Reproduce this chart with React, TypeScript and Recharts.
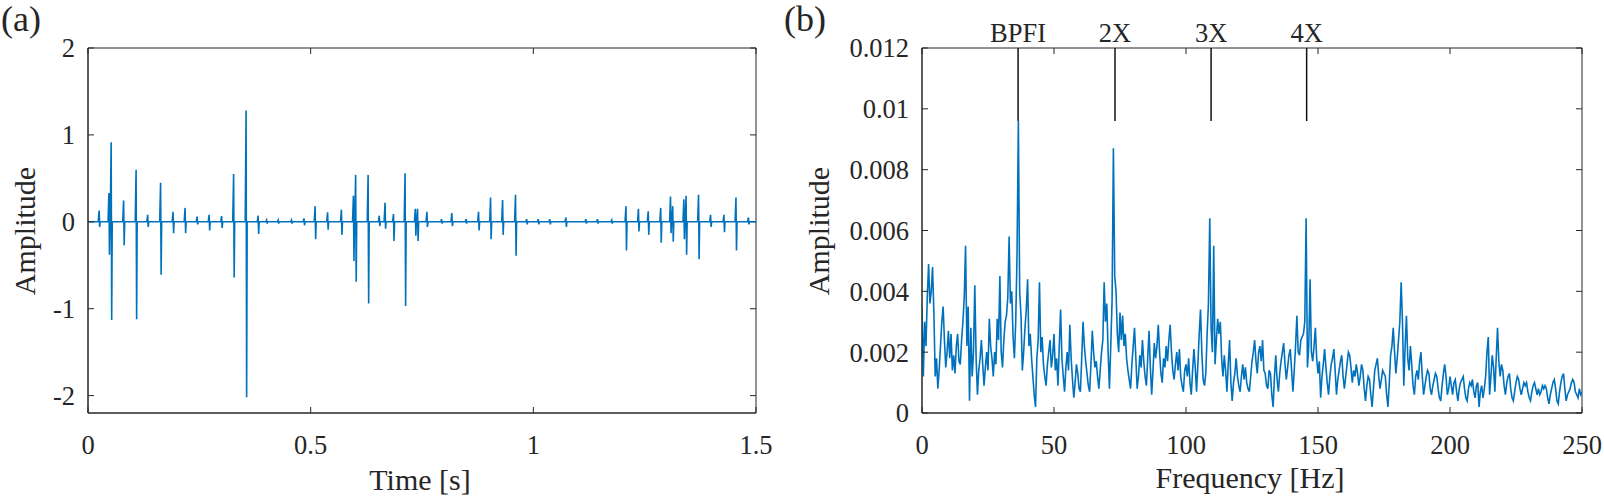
import React from 'react';
import { LineChart, Line, XAxis, YAxis, ReferenceLine, ReferenceArea } from 'recharts';

const SERIF = '"Liberation Serif", "Times New Roman", serif';
const INK = '#262626';
const BLUE = '#0072BD';
const TICK_LEN = 6;

// (a) vibration signal: one entry per impact burst
const impactTimes = [
  0.025, 0.047, 0.052, 0.08, 0.108, 0.134, 0.163, 0.191, 0.218, 0.245, 0.272, 0.3, 0.327, 0.355,
  0.382, 0.401, 0.427, 0.457, 0.485, 0.51, 0.538, 0.569, 0.596, 0.601, 0.629, 0.654, 0.667, 0.686,
  0.712, 0.735, 0.74, 0.761, 0.794, 0.817, 0.849, 0.877, 0.904, 0.931, 0.96, 0.985, 1.011, 1.037,
  1.073, 1.118, 1.144, 1.176, 1.208, 1.236, 1.258, 1.286, 1.308, 1.313, 1.338, 1.343, 1.371, 1.398,
  1.428, 1.455, 1.483,
];
const impactPeaks = [
  0.13, 0.33, 0.915, 0.245, 0.6, 0.08, 0.45, 0.115, 0.16, 0.06, 0.08, 0.065, 0.55, 1.28,
  0.07, 0.02, 0.02, 0.02, 0.04, 0.18, 0.11, 0.14, 0.3, 0.54, 0.54, 0.07, 0.22, 0.09,
  0.56, 0.15, 0.15, 0.115, 0.03, 0.1, 0.03, 0.115, 0.28, 0.25, 0.31, 0.03, 0.03, 0.03,
  0.05, 0.03, 0.03, 0.02, 0.18, 0.15, 0.12, 0.16, 0.29, 0.18, 0.26, 0.3, 0.31, 0.08,
  0.08, 0.28, 0.05,
];
const impactTroughs = [
  -0.06, -0.38, -1.13, -0.27, -1.12, -0.06, -0.61, -0.13, -0.13, -0.03, -0.1, -0.07, -0.64, -2.02,
  -0.14, -0.02, -0.02, -0.02, -0.04, -0.2, -0.09, -0.15, -0.45, -0.69, -0.94, -0.05, -0.08, -0.22,
  -0.97, -0.16, -0.22, -0.06, -0.02, -0.05, -0.02, -0.1, -0.2, -0.15, -0.39, -0.03, -0.03, -0.03,
  -0.06, -0.02, -0.02, -0.02, -0.33, -0.11, -0.15, -0.24, -0.13, -0.23, -0.2, -0.38, -0.43, -0.06,
  -0.12, -0.33, -0.03,
];
const timeTicks = [0, 0.5, 1, 1.5];
const ampTicks = [-2, -1, 0, 1, 2];

// (b) envelope spectrum in 0.5 Hz bins, 0..250 Hz, amplitude x 1e-4
const binWidth = 0.5;
const spectrumE4 = [
  35, 12, 30, 22, 38, 49, 36, 40, 48, 33, 12, 18, 8, 14, 22, 30, 35, 24, 15, 20,
  27, 18, 26, 14, 19, 13, 22, 26, 17, 16, 24, 30, 38, 55, 22, 35, 4, 28, 12, 20,
  42, 18, 6, 14, 18, 24, 16, 9, 15, 20, 14, 31, 22, 18, 12, 20, 16, 31, 24, 45,
  20, 15, 24, 30, 32, 38, 58, 36, 40, 25, 18, 30, 52, 96, 40, 32, 14, 20, 28, 34,
  44, 22, 26, 18, 12, 6, 2, 18, 24, 43, 20, 25, 16, 12, 9, 16, 20, 24, 15, 19,
  26, 14, 18, 9, 22, 34, 18, 12, 7, 15, 20, 14, 29, 18, 11, 5, 10, 16, 13, 8,
  7, 18, 30, 22, 17, 13, 9, 7, 16, 27, 20, 15, 17, 12, 8, 14, 20, 24, 43, 30,
  36, 20, 8, 22, 37, 87, 45, 40, 26, 20, 33, 24, 32, 22, 26, 18, 14, 11, 8, 16,
  22, 28, 18, 8, 12, 19, 15, 24, 17, 12, 9, 18, 27, 15, 6, 14, 23, 18, 22, 29,
  20, 13, 10, 18, 15, 22, 17, 24, 29, 20, 14, 11, 16, 20, 14, 21, 12, 9, 7, 14,
  16, 12, 18, 10, 6, 14, 21, 15, 7, 16, 26, 34, 20, 11, 9, 13, 26, 36, 64, 28,
  20, 55, 16, 24, 31, 26, 30, 18, 12, 19, 14, 7, 16, 24, 10, 4, 10, 13, 18, 12,
  9, 7, 12, 16, 11, 15, 10, 8, 7, 12, 17, 20, 24, 17, 13, 20, 22, 17, 24, 14,
  13, 9, 8, 14, 13, 6, 2, 12, 19, 11, 7, 13, 17, 20, 23, 16, 11, 15, 19, 21,
  14, 7, 14, 22, 32, 20, 19, 24, 25, 26, 30, 64, 15, 22, 44, 20, 17, 22, 28, 18,
  13, 17, 5, 12, 16, 21, 15, 10, 6, 12, 16, 18, 21, 14, 6, 11, 14, 17, 19, 12,
  8, 12, 16, 20, 19, 15, 10, 14, 12, 16, 13, 9, 12, 16, 14, 8, 4, 9, 12, 11,
  6, 2, 8, 14, 16, 18, 12, 8, 11, 14, 13, 12, 6, 2, 10, 19, 22, 28, 20, 13,
  18, 24, 30, 43, 30, 9, 22, 32, 18, 14, 22, 16, 9, 6, 12, 14, 11, 17, 20, 12,
  6, 9, 12, 14, 13, 8, 6, 9, 11, 13, 12, 8, 5, 4, 9, 13, 16, 12, 6, 8,
  12, 9, 6, 10, 11, 7, 4, 8, 10, 11, 12, 8, 5, 4, 8, 10, 9, 11, 7, 5,
  9, 10, 2, 7, 9, 5, 8, 12, 20, 25, 6, 12, 19, 15, 7, 18, 28, 17, 12, 16,
  14, 9, 6, 10, 12, 13, 8, 5, 4, 7, 10, 12, 11, 8, 6, 8, 10, 9, 10, 7,
  5, 4, 7, 9, 10, 8, 6, 8, 6, 7, 9, 8, 9, 8, 5, 3, 6, 8, 10, 11,
  8, 4, 3, 7, 10, 12, 13, 8, 4, 6, 7, 8, 10, 11, 10, 7, 6, 5, 8, 6,
  7,
];
const freqTicks = [0, 50, 100, 150, 200, 250];
const specTicks = [0, 0.002, 0.004, 0.006, 0.008, 0.01, 0.012];

// fault-frequency markers hanging from the top frame
const markerNames = ['BPFI', '2X', '3X', '4X'];
const markerFreqs = [36.4, 73.1, 109.5, 145.7];
const markerFoot = 0.0096;

// each burst: baseline, positive swing, negative swing, back to baseline
const signal: { t: number; a: number }[] = [{ t: 0, a: 0 }];
impactTimes.forEach((t, i) => {
  signal.push(
    { t: t - 0.002, a: 0 },
    { t, a: impactPeaks[i] },
    { t: t + 0.0012, a: impactTroughs[i] },
    { t: t + 0.0024, a: 0 },
  );
});
signal.push({ t: 1.5, a: 0 });

const spectrum = spectrumE4.map((v, i) => ({ f: i * binWidth, amp: v / 1e4 }));

const tickFont = { fontFamily: SERIF, fontSize: 26.5, fill: INK };

// inward tick on the top edge, drawn from a vertical reference line
const topTick = (p: any) => {
  const top = Math.min(p.y1, p.y2);
  return <line x1={p.x1} x2={p.x1} y1={top} y2={top + TICK_LEN} stroke={INK} strokeWidth={1} />;
};
// inward tick on the right edge, drawn from a horizontal reference line
const rightTick = (p: any) => {
  const right = Math.max(p.x1, p.x2);
  return <line x1={right} x2={right - TICK_LEN} y1={p.y1} y2={p.y1} stroke={INK} strokeWidth={1} />;
};

function frame(xDomain: number[], yDomain: number[], xTicks: number[], yTicks: number[]) {
  return [
    <ReferenceArea key="box" x1={xDomain[0]} x2={xDomain[1]} y1={yDomain[0]} y2={yDomain[1]}
      fill="none" stroke={INK} strokeWidth={1} />,
    ...xTicks.map((v) => <ReferenceLine key={`tx${v}`} x={v} shape={topTick} />),
    ...yTicks.map((v) => <ReferenceLine key={`ty${v}`} y={v} shape={rightTick} />),
  ];
}

function TimePanel() {
  return (
    <LineChart width={800} height={499} data={signal} margin={{ top: 48, right: 44, bottom: 46, left: 28 }}>
      <XAxis dataKey="t" type="number" domain={[0, 1.5]} ticks={timeTicks} interval={0} allowDataOverflow
        height={40} tickSize={-TICK_LEN} tickMargin={28} stroke={INK} tick={tickFont} />
      <YAxis type="number" domain={[-2.2, 2]} ticks={ampTicks} interval={0} allowDataOverflow
        width={60} tickSize={-TICK_LEN} tickMargin={19} stroke={INK} tick={tickFont} />
      {frame([0, 1.5], [-2.2, 2], timeTicks, ampTicks)}
      <Line dataKey="a" stroke={BLUE} strokeWidth={1.6} dot={false} activeDot={false} isAnimationActive={false} />
    </LineChart>
  );
}

function SpectrumPanel() {
  return (
    <LineChart width={804} height={499} data={spectrum} margin={{ top: 48, right: 22, bottom: 46, left: 42 }}>
      <XAxis dataKey="f" type="number" domain={[0, 250]} ticks={freqTicks} interval={0} allowDataOverflow
        height={40} tickSize={-TICK_LEN} tickMargin={28} stroke={INK} tick={tickFont} />
      <YAxis type="number" domain={[0, 0.012]} ticks={specTicks} interval={0} allowDataOverflow
        width={80} tickSize={-TICK_LEN} tickMargin={19} stroke={INK} tick={tickFont} />
      {frame([0, 250], [0, 0.012], freqTicks, specTicks)}
      <Line dataKey="amp" stroke={BLUE} strokeWidth={1.6} dot={false} activeDot={false} isAnimationActive={false} />
      {markerFreqs.map((f, i) => (
        <ReferenceLine
          key={markerNames[i]}
          segment={[{ x: f, y: 0.012 }, { x: f, y: markerFoot }]}
          stroke="#111"
          strokeWidth={1.5}
          label={{ value: markerNames[i], position: 'top', offset: 6, fill: INK, fontFamily: SERIF, fontSize: 26.5 }}
        />
      ))}
    </LineChart>
  );
}

export default function App() {
  return (
    <div style={{ position: 'absolute', left: 0, top: 0, width: 1604, height: 499, background: '#fff' }}>
      <div style={{ position: 'absolute', left: 0, top: 0 }}>
        <TimePanel />
      </div>
      <div style={{ position: 'absolute', left: 800, top: 0 }}>
        <SpectrumPanel />
      </div>
      <svg width={1604} height={499} style={{ position: 'absolute', left: 0, top: 0, pointerEvents: 'none' }}
        fontFamily={SERIF} fill={INK}>
        <text x={1} y={31} fontSize={36}>(a)</text>
        <text x={784} y={31} fontSize={36}>(b)</text>
        <text x={420} y={490} fontSize={30} textAnchor="middle">Time [s]</text>
        <text x={1250} y={488} fontSize={30} textAnchor="middle">Frequency [Hz]</text>
        <text transform="translate(35,231) rotate(-90)" fontSize={30} textAnchor="middle">Amplitude</text>
        <text transform="translate(829,231) rotate(-90)" fontSize={30} textAnchor="middle">Amplitude</text>
      </svg>
    </div>
  );
}
